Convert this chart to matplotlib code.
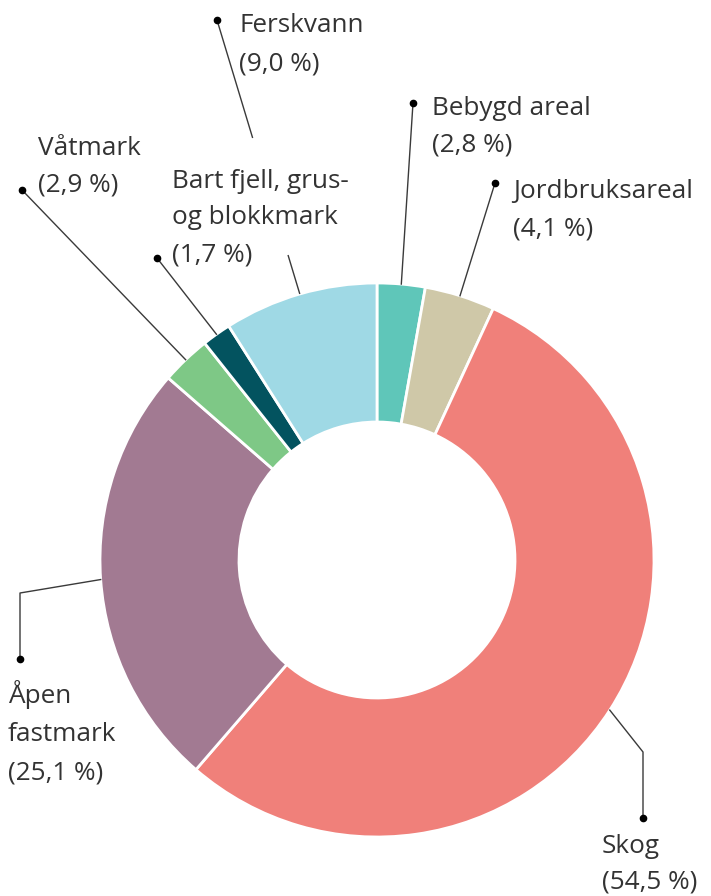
import matplotlib
matplotlib.use("Agg")
import matplotlib.pyplot as plt
import numpy as np

# ---- data ----
categories = ["Bebygd areal", "Jordbruksareal", "Skog", "Åpen fastmark",
              "Våtmark", "Bart fjell, grus-\nog blokkmark", "Ferskvann"]
values = [2.8, 4.1, 54.5, 25.1, 2.9, 1.7, 9.0]
colors = ["#5fc6b9", "#cfc8a8", "#f0807a", "#a27a92", "#7ec886", "#03535f", "#9fd9e5"]

W, H = 711, 896
fig = plt.figure(figsize=(W / 100, H / 100), dpi=100)
ax = fig.add_axes([0, 0, 1, 1])

def Y(y):  # pixel (top-down) -> data
    return H - y

cx, cy, R, RW = 377, Y(560), 277, 139
wedges, _ = ax.pie(values, colors=colors, startangle=90, counterclock=False,
                   center=(cx, cy), radius=R,
                   wedgeprops=dict(width=RW, edgecolor="white", linewidth=2))
ax.set_xlim(0, W)
ax.set_ylim(0, H)
ax.set_aspect("equal")
ax.axis("off")

layout = {
    0: dict(path=[(413, 103)], tx=432, ty=[107, 143]),
    1: dict(path=[(495, 183)], tx=513, ty=[190, 227]),
    2: dict(path=[(643, 752), (643, 818)], tx=602, ty=[845, 880]),
    3: dict(path=[(20, 593), (20, 659)], tx=8, ty=[695, 733, 771]),
    4: dict(path=[(22, 190)], tx=38, ty=[147, 183]),
    5: dict(path=[(157, 258)], tx=172, ty=[180, 216, 253]),
    6: dict(path=[(217, 20)], tx=239, ty=[24, 62], gap=(138, 255)),
}

line_col = "#3a3a3a"
txt_col = "#333333"
font = dict(family=["Open Sans", "DejaVu Sans"], fontsize=18.8, color=txt_col)

for i, w in enumerate(wedges):
    mid = np.deg2rad((w.theta1 + w.theta2) / 2)
    ax_x = cx + R * np.cos(mid)
    ax_y = cy + R * np.sin(mid)
    L = layout[i]
    xs = [ax_x] + [p[0] for p in L["path"]]
    ys = [ax_y] + [Y(p[1]) for p in L["path"]]
    if "gap" in L:
        x0, y0 = xs[0], ys[0]
        x1, y1 = xs[-1], ys[-1]
        g_lo, g_hi = Y(L["gap"][1]), Y(L["gap"][0])
        def xat(yv):
            return x0 + (x1 - x0) * (yv - y0) / (y1 - y0)
        ax.plot([x0, xat(g_lo)], [y0, g_lo], color=line_col, lw=1, solid_capstyle="butt")
        ax.plot([xat(g_hi), x1], [g_hi, y1], color=line_col, lw=1, solid_capstyle="butt")
    else:
        ax.plot(xs, ys, color=line_col, lw=1)
    ax.plot(xs[-1], ys[-1], "o", color="black", ms=4.5)
    lines = categories[i].split("\n") + [f"({values[i]:.1f} %)".replace(".", ",")]
    if i == 3:
        lines = ["Åpen", "fastmark", lines[-1]]
    for s, yc in zip(lines, L["ty"]):
        ax.text(L["tx"], Y(yc + 8), s, ha="left", va="baseline", **font)

fig.savefig("out.png", dpi=100, facecolor="white")
